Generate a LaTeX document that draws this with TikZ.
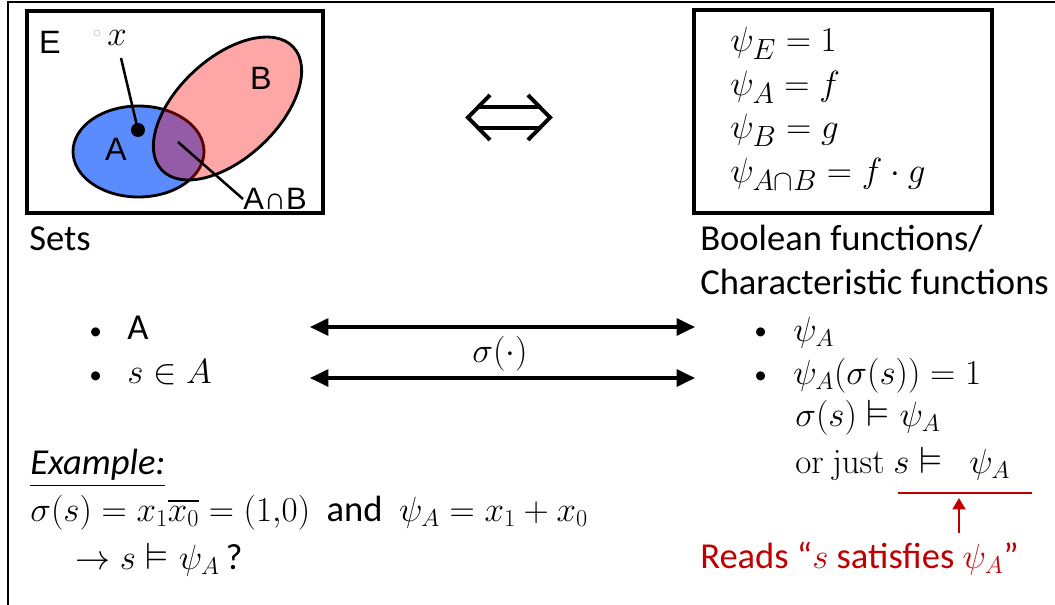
\documentclass[tikz,border=0pt]{standalone}
\usepackage{amsmath,amssymb}
\usepackage[no-math]{fontspec}
\setmainfont{Carlito}
\newfontfamily\arialfont{Liberation Sans}
\usetikzlibrary{arrows.meta,positioning}
\definecolor{setblue}{HTML}{5B8CFF}
\definecolor{setred}{HTML}{FF0000}
\definecolor{darkred}{HTML}{C00000}
\definecolor{ghost}{HTML}{D0D0D0}
\newcommand{\mth}[1]{{\fontsize{27}{32}\selectfont$#1$}}
\newcommand{\blt}{{\fontsize{18}{20}\selectfont•}}
\tikzset{
  outer/.style={draw=black, line width=1pt},
  frame/.style={draw=black, line width=2.2pt},
  setA/.style={fill=setblue, draw=black, line width=2pt},
  setB/.style={fill=setred, fill opacity=0.35, draw=black, draw opacity=1, line width=2pt},
  pin/.style={draw=black, line width=1.8pt},
  dot/.style={circle, fill=black, inner sep=0pt, minimum size=14*0.025cm},
  sanslab/.style={font=\arialfont\fontsize{23}{26}\selectfont, inner sep=0pt},
  txt/.style={font=\fontsize{26}{30}\selectfont, inner sep=0pt, anchor=west, text height=17pt, text depth=5pt},
  mathlab/.style={font=\fontsize{28}{32}\selectfont, inner sep=0pt, anchor=west, text height=17pt, text depth=5pt},
  biarrow/.style={draw=black, line width=2.2pt, {Triangle[length=13pt,width=12pt]}-{Triangle[length=13pt,width=12pt]}},
  equiv/.style={draw=black, line width=2.8pt, line join=miter},
  redline/.style={draw=darkred, line width=1.8pt},
  redarrow/.style={draw=darkred, line width=1.8pt, -{Triangle[length=8pt,width=9pt]}},
  redtxt/.style={txt, text=darkred}
}
\begin{document}
\begin{tikzpicture}[x=0.025cm, y=-0.025cm]
  \useasboundingbox (0,0) rectangle (1055,605);
  \draw[outer] (1055,2) -- (8,2) -- (8,605);

  % Venn picture of the sets
  \draw[frame] (27,11) rectangle (323,213);
  \filldraw[setA] (138.5,151.5) ellipse [x radius=65.5, y radius=45.5];
  \filldraw[setB, rotate around={43:(227.5,108.5)}] (227.5,108.5) ellipse [x radius=90, y radius=50];
  \node[sanslab] (E) at (50,42) {E};
  \node[sanslab] (labA) at (116,149) {A};
  \node[sanslab] (labB) at (261,78) {B};
  \draw[ghost, line width=0.6pt] (97,33) circle (3);
  \node[mathlab, anchor=center] (xlab) at (117,37) {$x$};
  \node[dot] (xdot) at (138,130) {};
  \draw[pin] (121,58) -- (xdot.center);
  \coordinate (ab) at (178,142);
  \node[sanslab, anchor=west, font=\arialfont\fontsize{22}{26}\selectfont] (ablab) at (243,199) {A∩B};
  \draw[pin] (ab) -- (ablab.west);

  % equivalence sign
  \draw[equiv] (477,107) -- (540,107) (477,128) -- (540,128);
  \draw[equiv] (490,95) -- (468,117.5) -- (490,140);
  \draw[equiv] (528,95) -- (550,117.5) -- (528,140);

  % characteristic functions
  \draw[frame] (694,10) rectangle (992,213);
  \node[mathlab] (psiE) at (730,43) {$\psi_E = 1$};
  \node[mathlab] (psiA) at (730,87) {$\psi_A = f$};
  \node[mathlab] (psiB) at (730,130) {$\psi_B = g$};
  \node[mathlab] (psiAB) at (730,174) {$\psi_{A\cap B} = f\cdot g$};

  \node[txt] (sets) at (29,242) {Sets};
  \node[txt] (bool) at (700,242) {Boolean functions/};
  \node[txt] (charf) at (700,286) {Characteristic functions};

  % bullets
  \node[txt] (bl1) at (89,331) {\blt};
  \node[txt] (itA) at (127,331) {A};
  \node[txt] (bl2) at (89,375) {\blt};
  \node[txt] (itS) at (127,375) {\mth{s \in A}};
  \node[txt] (br1) at (754,331) {\blt};
  \node[txt] (itPsi) at (793,333) {\mth{\psi_A}};
  \node[txt] (br2) at (754,375) {\blt};
  \node[txt] (itVal) at (793,376) {\mth{\psi_A(\sigma(s)) = 1}};
  \node[txt] (itSat) at (795,418) {\mth{\sigma(s) \vDash \psi_A}};
  \node[txt] (itJust) at (795,465) {\mth{\mathrm{or\ just}\ s \vDash\ \ \psi_A}};

  \coordinate (l1) at (310,327);
  \coordinate (r1) at (695,327);
  \coordinate (l2) at (310,378);
  \coordinate (r2) at (695,378);
  \draw[biarrow] (l1) -- (r1);
  \draw[biarrow] (l2) -- (r2);
  \node[mathlab, anchor=center] (sig) at (500,354) {$\sigma(\cdot)$};

  % example
  \node[txt] (ex) at (30,466) {\textit{\underline{Example:}}};
  \node[txt] (exEq) at (30,513) {\mth{\sigma(s) = x_1\overline{x_0} = (1{,}0)}\ \ and\ \ \mth{\psi_A = x_1 + x_0}};
  \node[txt] (exQ) at (75,561) {\mth{\rightarrow s \vDash \psi_A}\,?};

  % reading note
  \coordinate (u1) at (898,493);
  \coordinate (u2) at (1032,493);
  \coordinate (tipR) at (959,498);
  \coordinate (tailR) at (959,533);
  \draw[redline] (u1) -- (u2);
  \draw[redarrow] (tailR) -- (tipR);
  \node[redtxt] (reads) at (700,560) {Reads “\mth{s} satisfies \mth{\psi_A}”};
\end{tikzpicture}
\end{document}
